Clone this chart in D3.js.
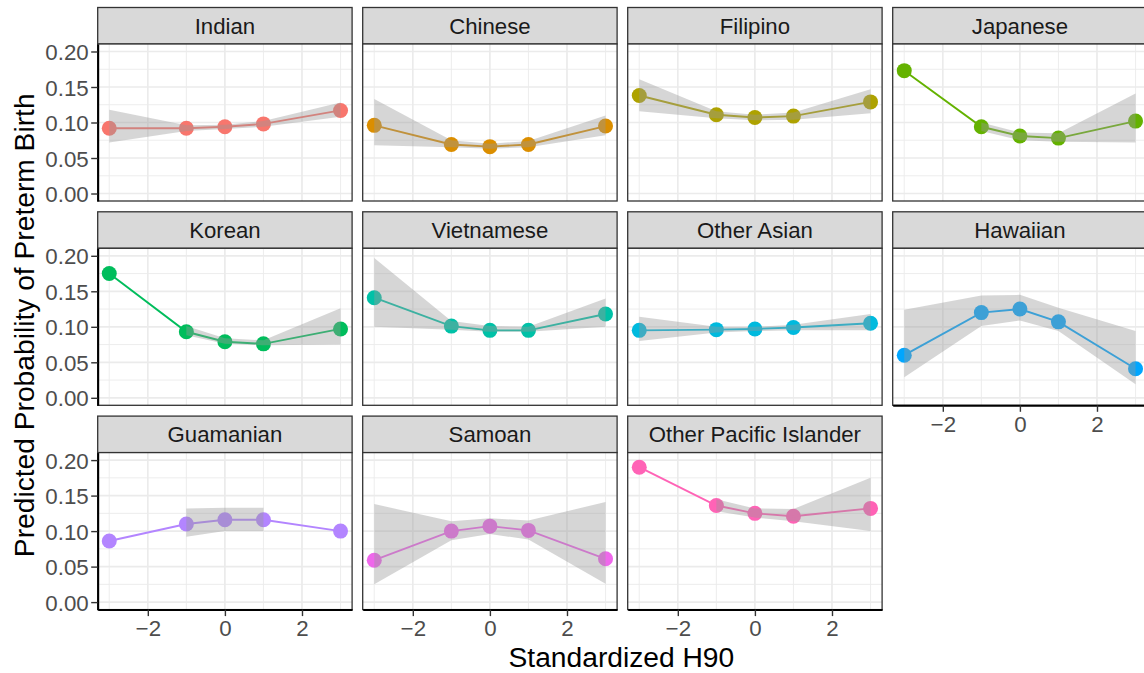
<!DOCTYPE html>
<html>
<head>
<meta charset="utf-8">
<script src="https://cdn.jsdelivr.net/npm/d3@7"></script>
<style>
  html, body { margin: 0; padding: 0; background: #ffffff; }
  svg { display: block; font-family: "Liberation Sans", Arial, Helvetica, sans-serif; }
</style>
</head>
<body>
<svg id="chart" width="1144" height="673"></svg>
<script>
// ---------------- Data ----------------
const groups = ["Indian", "Chinese", "Filipino", "Japanese", "Korean", "Vietnamese",
  "Other Asian", "Hawaiian", "Guamanian", "Samoan", "Other Pacific Islander"];
const groupColors = ["#F8766D", "#DB8E00", "#AEA200", "#64B200", "#00BD5C", "#00C1A7",
  "#00BADE", "#00A6FF", "#B385FF", "#EF67EB", "#FF63B6"];
const h90 = [-3, -1, 0, 1, 3];
const fitValues = [
  [0.092, 0.092, 0.094, 0.098, 0.117],
  [0.096, 0.069, 0.066, 0.069, 0.095],
  [0.138, 0.111, 0.107, 0.109, 0.129],
  [0.173, 0.094, 0.081, 0.078, 0.102],
  [0.175, 0.093, 0.079, 0.076, 0.097],
  [0.141, 0.101, 0.095, 0.095, 0.118],
  [0.095, 0.096, 0.097, 0.099, 0.105],
  [0.060, 0.120, 0.125, 0.107, 0.041],
  [0.086, 0.110, 0.116, 0.116, 0.100],
  [0.059, 0.100, 0.107, 0.101, 0.061],
  [0.190, 0.136, 0.125, 0.121, 0.132]
];
const lowerValues = [
  [0.072, 0.088, 0.091, 0.094, 0.108],
  [0.068, 0.065, 0.063, 0.065, 0.082],
  [0.116, 0.106, 0.103, 0.104, 0.113],
  [null, 0.088, 0.075, 0.073, 0.072],
  [null, 0.088, 0.076, 0.074, 0.075],
  [0.100, 0.096, 0.093, 0.093, 0.100],
  [0.080, 0.092, 0.094, 0.095, 0.095],
  [0.029, 0.101, 0.109, 0.094, 0.019],
  [null, 0.092, 0.100, 0.100, null],
  [0.025, 0.087, 0.096, 0.088, 0.026],
  [null, 0.128, 0.119, 0.114, 0.100]
];
const upperValues = [
  [0.118, 0.096, 0.097, 0.102, 0.128],
  [0.133, 0.075, 0.070, 0.074, 0.110],
  [0.161, 0.116, 0.111, 0.114, 0.147],
  [null, 0.100, 0.086, 0.085, 0.141],
  [null, 0.101, 0.084, 0.081, 0.126],
  [0.197, 0.108, 0.101, 0.100, 0.140],
  [0.114, 0.100, 0.100, 0.103, 0.118],
  [0.124, 0.144, 0.145, 0.127, 0.094],
  [null, 0.132, 0.133, 0.133, null],
  [0.138, 0.114, 0.118, 0.115, 0.141],
  [null, 0.145, 0.132, 0.131, 0.175]
];
const yTicks = [0.00, 0.05, 0.10, 0.15, 0.20];
const yMinor = [0.025, 0.075, 0.125, 0.175];
const xTicks = [-2, 0, 2];
const xMinor = [-3, -1, 1, 3];
const xTitle = "Standardized H90";
const yTitle = "Predicted Probability of Preterm Birth";

// ---------------- Layout ----------------
const ncol = 4;
const L = { left: 97.7, colStep: 265, panelW: 254.4, top: 7.5, rowStep: 204.3, stripH: 36.5, panelH: 157 };
const nrow = Math.ceil(groups.length / ncol);
const tickFont = 22.3, stripFont = 22.2, titleFont = 28.2;

const svg = d3.select("#chart");
const x = d3.scaleLinear().domain([-3.3, 3.3]).range([0, L.panelW]);
const y = d3.scaleLinear().domain([0.1 - 0.11055, 0.1 + 0.11055]).range([L.panelH, 0]);

const fmtY = d3.format(".2f");
const fmtX = v => (v < 0 ? "\u2212" + Math.abs(v) : String(v));

groups.forEach((g, i) => {
  const col = i % ncol, row = Math.floor(i / ncol);
  const px = L.left + col * L.colStep;
  const stripY = L.top + row * L.rowStep;
  const py = stripY + L.stripH;
  const hasXAxis = (i + ncol) >= groups.length;
  const hasYAxis = col === 0;

  // strip
  svg.append("rect").attr("x", px).attr("y", stripY).attr("width", L.panelW).attr("height", L.stripH)
    .attr("fill", "#D9D9D9").attr("stroke", "#333333").attr("stroke-width", 1.3);
  svg.append("text").attr("x", px + L.panelW / 2).attr("y", stripY + L.stripH / 2 + 7.8)
    .attr("text-anchor", "middle").attr("font-size", stripFont).attr("fill", "#1A1A1A").text(g);

  const p = svg.append("g").attr("transform", `translate(${px},${py})`);
  p.append("rect").attr("width", L.panelW).attr("height", L.panelH).attr("fill", "#ffffff");

  // grid
  const grid = p.append("g");
  yMinor.forEach(v => grid.append("line").attr("x1", 0).attr("x2", L.panelW).attr("y1", y(v)).attr("y2", y(v))
    .attr("stroke", "#EBEBEB").attr("stroke-width", 0.9));
  xMinor.forEach(v => grid.append("line").attr("y1", 0).attr("y2", L.panelH).attr("x1", x(v)).attr("x2", x(v))
    .attr("stroke", "#EBEBEB").attr("stroke-width", 0.9));
  yTicks.forEach(v => grid.append("line").attr("x1", 0).attr("x2", L.panelW).attr("y1", y(v)).attr("y2", y(v))
    .attr("stroke", "#EBEBEB").attr("stroke-width", 1.7));
  xTicks.forEach(v => grid.append("line").attr("y1", 0).attr("y2", L.panelH).attr("x1", x(v)).attr("x2", x(v))
    .attr("stroke", "#EBEBEB").attr("stroke-width", 1.7));

  const pts = h90.map((xv, k) => ({ x: xv, fit: fitValues[i][k], lo: lowerValues[i][k], hi: upperValues[i][k] }));

  // points
  p.selectAll("circle.pt").data(pts).join("circle").attr("class", "pt")
    .attr("cx", d => x(d.x)).attr("cy", d => y(d.fit)).attr("r", 7.5).attr("fill", groupColors[i]);
  // line
  p.append("path").datum(pts)
    .attr("d", d3.line().x(d => x(d.x)).y(d => y(d.fit)))
    .attr("fill", "none").attr("stroke", groupColors[i]).attr("stroke-width", 1.9);
  // ribbon
  p.append("path").datum(pts)
    .attr("d", d3.area().defined(d => d.lo !== null && d.hi !== null)
      .x(d => x(d.x)).y0(d => y(d.lo)).y1(d => y(d.hi)))
    .attr("fill", "#999999").attr("fill-opacity", 0.4).attr("stroke", "none");

  // border
  p.append("rect").attr("width", L.panelW).attr("height", L.panelH)
    .attr("fill", "none").attr("stroke", "#333333").attr("stroke-width", 1.3);

  if (hasYAxis) {
    const ax = p.append("g").call(d3.axisLeft(y).tickValues(yTicks).tickFormat(fmtY)
      .tickSize(6.5).tickSizeOuter(0).tickPadding(2.5));
    ax.select(".domain").attr("stroke", "#000000").attr("stroke-width", 2);
    ax.selectAll(".tick line").attr("stroke", "#333333").attr("stroke-width", 1.4);
    ax.selectAll(".tick text").attr("font-size", tickFont).attr("fill", "#4D4D4D")
      .attr("font-family", "Liberation Sans, Arial, sans-serif").attr("dy", "0.36em");
  }
  if (hasXAxis) {
    const ax = p.append("g").attr("transform", `translate(0,${L.panelH})`)
      .call(d3.axisBottom(x).tickValues(xTicks).tickFormat(fmtX).tickSize(6.5).tickSizeOuter(0).tickPadding(4.5));
    ax.select(".domain").attr("stroke", "#000000").attr("stroke-width", 2);
    ax.selectAll(".tick line").attr("stroke", "#333333").attr("stroke-width", 1.4);
    ax.selectAll(".tick text").attr("font-size", tickFont).attr("fill", "#4D4D4D")
      .attr("font-family", "Liberation Sans, Arial, sans-serif");
  }
});

// axis titles
const panelsLeft = L.left;
const panelsRight = L.left + (ncol - 1) * L.colStep + L.panelW;
svg.append("text").attr("x", (panelsLeft + panelsRight) / 2 - 1).attr("y", 667)
  .attr("text-anchor", "middle").attr("font-size", titleFont).attr("fill", "#000000").text(xTitle);
const panelsTop = L.top + L.stripH;
const panelsBottom = L.top + (nrow - 1) * L.rowStep + L.stripH + L.panelH;
svg.append("text").attr("transform", `translate(34,${(panelsTop + panelsBottom) / 2 - 1.5}) rotate(-90)`)
  .attr("text-anchor", "middle").attr("font-size", titleFont).attr("fill", "#000000").text(yTitle);
</script>
</body>
</html>
